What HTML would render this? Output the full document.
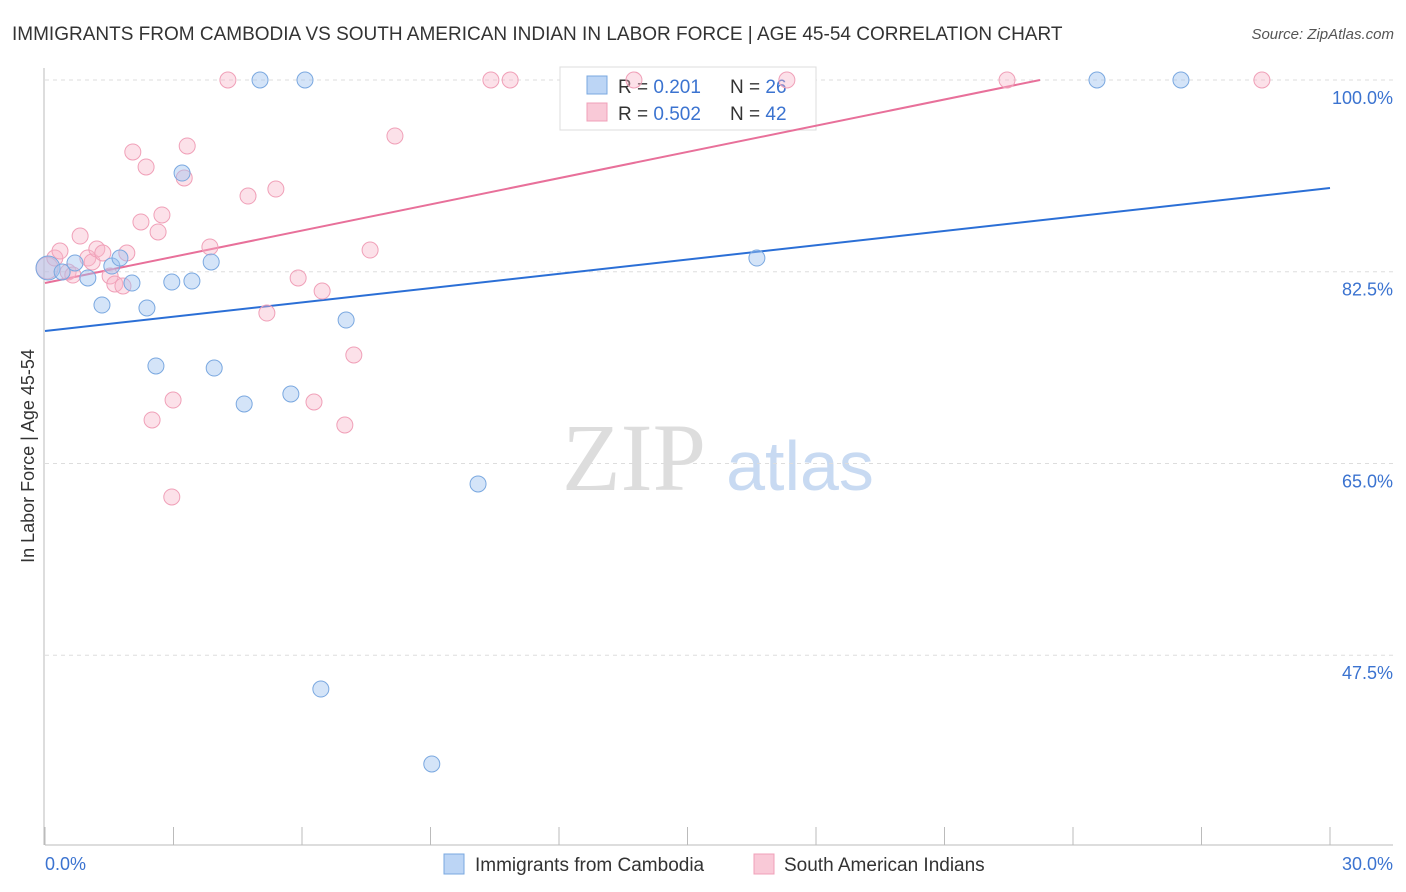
<!DOCTYPE html>
<html><head><meta charset="utf-8"><style>
body{margin:0;background:#fff;font-family:"Liberation Sans",sans-serif}
svg{display:block}
</style></head><body>
<svg id="chart" width="1406" height="892" viewBox="0 0 1406 892" xmlns="http://www.w3.org/2000/svg">
<text x="12" y="40" font-size="19" fill="#333">IMMIGRANTS FROM CAMBODIA VS SOUTH AMERICAN INDIAN IN LABOR FORCE | AGE 45-54 CORRELATION CHART</text>
<text x="1394" y="39" font-size="15" fill="#555" font-style="italic" text-anchor="end">Source: ZipAtlas.com</text>
<text x="634" y="490" font-size="96" fill="#ddd" font-family="Liberation Serif,serif" text-anchor="middle">ZIP</text>
<text x="800" y="490" font-size="70" fill="#c8daf2" text-anchor="middle">atlas</text>
<g id="grid"></g>
<g>
<rect x="560" y="67" width="256" height="63" fill="#fff" stroke="#ddd"/>
<rect x="587" y="76" width="20" height="18" fill="#bcd5f5" stroke="#7aa8e0"/>
<rect x="587" y="103" width="20" height="18" fill="#f9c9d7" stroke="#f0a0b8"/>
<text x="618" y="93" font-size="19" fill="#333">R = <tspan fill="#3b73d0">0.201</tspan><tspan x="730">N = </tspan><tspan fill="#3b73d0">26</tspan></text>
<text x="618" y="120" font-size="19" fill="#333">R = <tspan fill="#3b73d0">0.502</tspan><tspan x="730">N = </tspan><tspan fill="#3b73d0">42</tspan></text>
</g>
<g id="lines"></g>
<g id="points"></g>
<text transform="translate(34,456) rotate(-90)" font-size="18" fill="#333" text-anchor="middle">In Labor Force | Age 45-54</text>
<text x="45" y="870" font-size="18" fill="#3b73d0">0.0%</text>
<text x="1393" y="870" font-size="18" fill="#3b73d0" text-anchor="end">30.0%</text>
<g>
<rect x="444" y="854" width="20" height="20" fill="#bcd5f5" stroke="#7aa8e0"/>
<text x="475" y="871" font-size="19" fill="#333">Immigrants from Cambodia</text>
<rect x="754" y="854" width="20" height="20" fill="#f9c9d7" stroke="#f0a0b8"/>
<text x="784" y="871" font-size="19" fill="#333">South American Indians</text>
</g>
</svg>
<script>
const yTicks=[100,82.5,65,47.5];
const yTickLabels=["100.0%","82.5%","65.0%","47.5%"];
const xTicks=[0,3,6,9,12,15,18,21,24,27,30];
const blueX=[0.07,0.40,0.70,1.00,1.33,1.56,1.75,2.03,2.38,2.59,2.96,3.20,3.43,3.88,3.95,4.65,5.02,5.74,6.07,6.44,7.03,9.03,10.11,16.62,24.56,26.52];
const blueY=[82.84,82.48,83.30,81.93,79.46,83.02,83.75,81.47,79.19,73.90,81.56,91.51,81.65,83.39,73.71,70.43,100,71.34,100,44.41,78.09,37.57,63.13,83.75,100,100];
const pinkX=[0.05,0.23,0.35,0.54,0.65,0.82,1.00,1.10,1.21,1.35,1.52,1.63,1.82,1.91,2.05,2.24,2.36,2.50,2.64,2.73,2.96,2.99,3.25,3.32,3.85,4.27,4.74,5.18,5.39,5.91,6.28,6.47,7.00,7.21,7.59,8.17,10.41,10.86,13.75,17.32,22.46,28.41];
const pinkY=[82.84,83.75,84.39,82.48,82.20,85.76,83.75,83.39,84.57,84.21,82.11,81.38,81.20,84.21,93.43,87.04,92.06,68.97,86.13,87.68,61.94,70.79,91.06,93.98,84.76,100,89.41,78.73,90.05,81.93,70.61,80.74,68.51,74.90,84.48,94.89,100,100,100,100,100,100];
const blueTrend=[77.09,90.14];
const pinkTrend=[81.47,100,23.23];
const NS="http://www.w3.org/2000/svg";
const xs=v=>45+v/30*1285, ys=v=>80+(100-v)*10.956;
function mk(t,a,p){const e=document.createElementNS(NS,t);for(const k in a)e.setAttribute(k,a[k]);p.appendChild(e);return e;}
const grid=document.getElementById('grid');
yTicks.forEach((t,i)=>{
 const l=mk('line',{x1:45,x2:1393,y1:ys(t),y2:ys(t),stroke:'#ddd','stroke-dasharray':'4,4'},grid);
 
 
 const tx=mk('text',{x:1393,y:ys(t)+24,'font-size':18,fill:'#3b73d0','text-anchor':'end'},grid);
 tx.textContent=yTickLabels[i];
 
 
});
let ax=mk('line',{x1:44,x2:44,y1:68,y2:845,stroke:'#bbb'},grid);


ax=mk('line',{x1:45,x2:1393,y1:845,y2:845,stroke:'#bbb'},grid);


xTicks.forEach(t=>{const l=mk('line',{x1:xs(t),x2:xs(t),y1:827,y2:845,stroke:'#bbb'},grid);
 
 });
const pts=document.getElementById('points');
pinkX.forEach((x,i)=>{const c=mk('circle',{cx:xs(x),cy:ys(pinkY[i]),r:i==0?11:8,fill:'rgba(248,180,200,0.4)',stroke:'#f0a0b8','stroke-width':1},pts);
 
 });
blueX.forEach((x,i)=>{const c=mk('circle',{cx:xs(x),cy:ys(blueY[i]),r:i==0?12:8,fill:'rgba(160,196,240,0.45)',stroke:'#7aa8e0','stroke-width':1},pts);
 
 });
const ln=document.getElementById('lines');
let l1=mk('line',{x1:xs(0),y1:ys(blueTrend[0]),x2:xs(30),y2:ys(blueTrend[1]),stroke:'#2b6fd6','stroke-width':2},ln);


let l2=mk('line',{x1:xs(0),y1:ys(pinkTrend[0]),x2:xs(pinkTrend[2]),y2:ys(pinkTrend[1]),stroke:'#e8709a','stroke-width':2},ln);


</script>
</body></html>
